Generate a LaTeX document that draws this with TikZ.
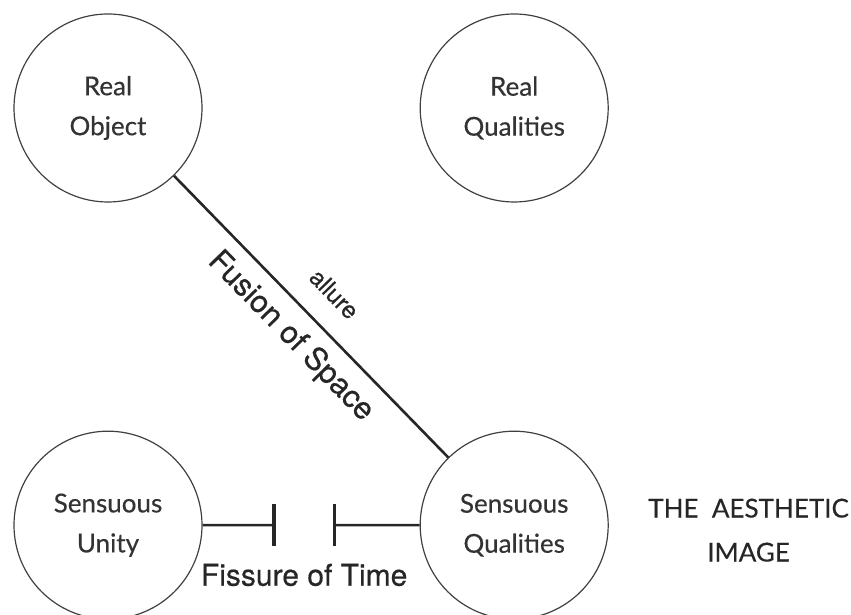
\documentclass[tikz,border=0pt]{standalone}
\usepackage{fontspec}
\setmainfont{Lato}[FakeBold=0.4]
\newfontfamily\heros{TeX Gyre Heros}[FakeBold=0.5]
\usetikzlibrary{arrows.meta, positioning, calc}

\begin{document}
\begin{tikzpicture}[
    x=1pt, y=1pt,
    node distance = 228pt and 217pt,
    entity/.style = {circle, draw=black!75, line width=1.2pt, minimum size=188pt, inner sep=0pt,
                     align=center, font=\fontsize{26}{40}\selectfont, text=black!80},
    link/.style = {line width=2.6pt, draw=black!85},
    cut/.style = {link, -{Bar[width=42pt, line width=3.2pt]}},
    tag/.style = {font=\heros\fontsize{31}{32}\selectfont, text=black!85}
  ]
  \useasboundingbox (0,0) rectangle (851,615);
  % Objects and qualities
  \node[entity] (ro) at (108,507) {Real\\Object};
  \node[entity, right=of ro] (rq) {Real\\Qualities};
  \node[entity, below=of ro] (su) {Sensuous\\Unity};
  \node[entity, below=of rq] (sq) {Sensuous\\Qualities};
  \node[align=center, font=\fontsize{26}{44}\selectfont, text=black!85, right=36pt of sq, yshift=-5pt] (img) {THE\ \ AESTHETIC\\IMAGE};
  % Ties
  \draw[link] (ro) -- node[sloped, above=19pt, font=\heros\fontsize{24}{26}\selectfont, text=black!85] {allure}
                      node[sloped, below=9pt, tag] {Fusion of Space} (sq);
  \coordinate (fl) at ($(su.east)!0.336!(sq.west)$);
  \coordinate (fr) at ($(su.east)!0.6!(sq.west)$);
  \draw[cut] (su.east) -- (fl);
  \draw[cut] (sq.west) -- (fr);
  \node[tag, font=\heros\fontsize{30}{32}\selectfont, below=35pt of $(fl)!0.5!(fr)$] (gap) {Fissure of Time};
\end{tikzpicture}
\end{document}
